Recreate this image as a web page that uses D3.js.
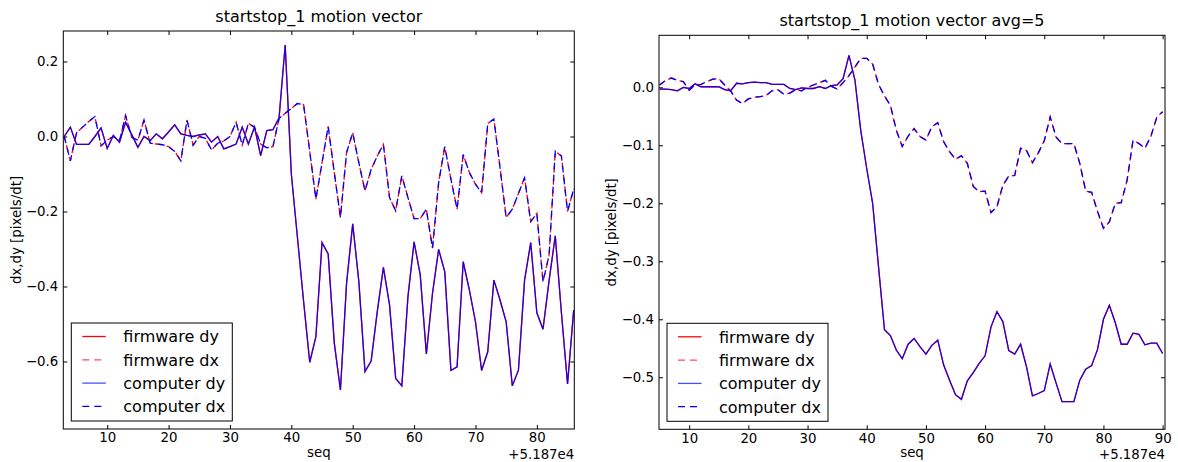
<!DOCTYPE html>
<html lang="en">
<head>
<meta charset="utf-8" />
<title>startstop_1 motion vector</title>
<script src="https://cdn.jsdelivr.net/npm/d3@7"></script>
<style>
  body { margin: 0; background: #fff; }
  svg { display: block; font-family: "DejaVu Sans", sans-serif; }
</style>
</head>
<body>
<svg id="chart" width="1178" height="462"></svg>
<script>
// seq numbers, shown with the +5.187e4 offset on the axis
const seqRaw = d3.range(3, 87);
const seqAvg = d3.range(5, 91);

// raw motion vector (left panel)
const dyRaw = [0.0, 0.025, -0.021, -0.021, -0.021, 0.0, 0.023, -0.032, 0.003, -0.015,
  0.038, 0.005, -0.029, 0.0, -0.011, 0.007, -0.006, 0.012, 0.031, 0.007,
  0.003, 0.0, 0.004, 0.007, -0.015, 0.0, -0.033, -0.027, -0.02, 0.025,
  -0.02, 0.025, -0.051, 0.016, 0.018, 0.05, 0.244, -0.1, -0.27, -0.44,
  -0.602, -0.534, -0.283, -0.313, -0.551, -0.676, -0.391, -0.233, -0.387, -0.627,
  -0.599, -0.467, -0.349, -0.449, -0.645, -0.665, -0.427, -0.281, -0.369, -0.58,
  -0.418, -0.301, -0.361, -0.624, -0.614, -0.334, -0.409, -0.494, -0.624, -0.574,
  -0.383, -0.436, -0.494, -0.665, -0.623, -0.383, -0.283, -0.47, -0.514, -0.383,
  -0.265, -0.47, -0.66, -0.463];
const dxRaw = [0.0, -0.065, 0.01, 0.025, 0.04, 0.053, -0.025, -0.01, 0.0, -0.012,
  0.056, -0.002, -0.01, 0.044, -0.018, -0.02, -0.022, -0.027, -0.04, -0.065,
  0.044, -0.023, 0.0, -0.005, -0.036, -0.018, -0.012, 0.0, 0.038, -0.023,
  0.035, 0.025, -0.02, -0.03, -0.027, 0.048, 0.062, 0.075, 0.088, 0.085,
  -0.04, -0.167, -0.07, 0.027, -0.096, -0.216, -0.043, 0.01, -0.07, -0.145,
  -0.088, -0.052, -0.021, -0.163, -0.198, -0.105, -0.163, -0.219, -0.219, -0.194,
  -0.298, -0.123, -0.027, -0.114, -0.194, -0.048, -0.096, -0.127, -0.15, 0.034,
  0.047, -0.083, -0.216, -0.194, -0.152, -0.11, -0.227, -0.205, -0.387, -0.316,
  -0.039, -0.052, -0.2, -0.14];

// averaged over 5 (right panel)
const dyAvg = [-0.003, -0.003, -0.004, -0.006, 0.0, -0.002, 0.006, 0.001, 0.001, 0.001,
  0.001, -0.004, -0.006, 0.007, 0.006, 0.008, 0.009, 0.008, 0.008, 0.005,
  0.005, 0.005, -0.002, -0.004, -0.001, -0.002, -0.002, 0.001, -0.002, 0.003,
  0.004, 0.015, 0.055, 0.013, -0.075, -0.14, -0.2, -0.31, -0.418, -0.428,
  -0.453, -0.468, -0.443, -0.433, -0.447, -0.46, -0.445, -0.436, -0.479, -0.505,
  -0.53, -0.538, -0.506, -0.492, -0.476, -0.463, -0.413, -0.387, -0.404, -0.454,
  -0.46, -0.443, -0.482, -0.532, -0.528, -0.523, -0.477, -0.51, -0.542, -0.542,
  -0.542, -0.505, -0.486, -0.48, -0.452, -0.4, -0.376, -0.406, -0.443, -0.443,
  -0.424, -0.426, -0.444, -0.441, -0.441, -0.459];
const dxAvg = [0.004, 0.012, 0.016, 0.012, 0.01, -0.005, 0.004, 0.005, 0.01, 0.014,
  0.015, 0.004, -0.006, -0.022, -0.028, -0.02, -0.017, -0.016, -0.014, -0.006,
  -0.004, -0.012, -0.01, -0.004, -0.006, 0.0, 0.004, 0.008, 0.012, 0.002,
  -0.003, 0.008, 0.02, 0.035, 0.05, 0.05, 0.04, 0.005, -0.015, -0.031,
  -0.074, -0.102, -0.084, -0.071, -0.085, -0.091, -0.068, -0.061, -0.094, -0.111,
  -0.124, -0.118, -0.131, -0.171, -0.18, -0.179, -0.216, -0.206, -0.169, -0.153,
  -0.152, -0.105, -0.109, -0.13, -0.113, -0.092, -0.051, -0.086, -0.097, -0.097,
  -0.097, -0.131, -0.179, -0.181, -0.214, -0.243, -0.232, -0.2, -0.199, -0.16,
  -0.091, -0.097, -0.105, -0.085, -0.052, -0.042];

// firmware and computer results coincide in the picture
const seriesNames = ["firmware dy", "firmware dx", "computer dy", "computer dx"];

const xTicksRaw = [10, 20, 30, 40, 50, 60, 70, 80];
const xTicksAvg = [10, 20, 30, 40, 50, 60, 70, 80, 90];
const yTicksRaw = [-0.6, -0.4, -0.2, 0.0, 0.2];
const yTicksAvg = [-0.5, -0.4, -0.3, -0.2, -0.1, 0.0];

const svg = d3.select("#chart");
const tickFormat = d3.format(".1f");
const tickFont = "13.33px";
const bigFont = "16px";

function drawPanel(p) {
  const x = d3.scaleLinear().domain(p.xDomain).range([p.left, p.right]);
  const y = d3.scaleLinear().domain(p.yDomain).range([p.bottom, p.top]);
  const g = svg.append("g");

  g.append("clipPath").attr("id", p.id + "-clip")
    .append("rect")
    .attr("x", p.left).attr("y", p.top)
    .attr("width", p.right - p.left).attr("height", p.bottom - p.top);

  const line = (vals) => d3.line()
    .x((d, i) => x(p.seq[i]))
    .y((d) => y(d))(vals);

  const styles = [
    { vals: p.dy, color: "#ff0000", dash: null, off: 0, op: 1 },
    { vals: p.dx, color: "#ff0000", dash: "7,5", off: p.dashOff, op: 1 },
    { vals: p.dy, color: "#0000ff", dash: null, off: 0, op: 0.85 },
    { vals: p.dx, color: "#0000ff", dash: "7,5", off: 0, op: 1 }
  ];

  const plot = g.append("g").attr("clip-path", `url(#${p.id}-clip)`);
  styles.forEach((s) => {
    plot.append("path")
      .attr("d", line(s.vals))
      .attr("fill", "none")
      .attr("stroke", s.color)
      .attr("stroke-opacity", s.op)
      .attr("stroke-width", 1.3)
      .attr("stroke-dasharray", s.dash)
      .attr("stroke-dashoffset", s.off);
  });

  // ticks point inward on all four sides
  const bottomAxis = g.append("g")
    .attr("transform", `translate(0,${p.bottom})`)
    .call(d3.axisBottom(x).tickValues(p.xTicks).tickSize(-4).tickPadding(4).tickFormat(d3.format("d")));
  const topAxis = g.append("g")
    .attr("transform", `translate(0,${p.top})`)
    .call(d3.axisTop(x).tickValues(p.xTicks).tickSize(-4).tickFormat(""));
  const leftAxis = g.append("g")
    .attr("transform", `translate(${p.left},0)`)
    .call(d3.axisLeft(y).tickValues(p.yTicks).tickSize(-4).tickPadding(5).tickFormat(tickFormat));
  const rightAxis = g.append("g")
    .attr("transform", `translate(${p.right},0)`)
    .call(d3.axisRight(y).tickValues(p.yTicks).tickSize(-4).tickFormat(""));

  [bottomAxis, topAxis, leftAxis, rightAxis].forEach((a) => {
    a.select(".domain").remove();
    a.selectAll("line").attr("stroke", "#000");
    a.selectAll("text")
      .attr("fill", "#000")
      .style("font-family", "DejaVu Sans")
      .style("font-size", tickFont);
  });

  g.append("rect")
    .attr("x", p.left).attr("y", p.top)
    .attr("width", p.right - p.left).attr("height", p.bottom - p.top)
    .attr("fill", "none").attr("stroke", "#000").attr("stroke-width", 1);

  g.append("text")
    .attr("x", (p.left + p.right) / 2).attr("y", p.titleY)
    .attr("text-anchor", "middle")
    .style("font-size", bigFont)
    .text(p.title);

  g.append("text")
    .attr("x", (p.left + p.right) / 2).attr("y", 456.5)
    .attr("text-anchor", "middle")
    .style("font-size", tickFont)
    .text("seq");

  g.append("text")
    .attr("x", p.right).attr("y", 458.5)
    .attr("text-anchor", "end")
    .style("font-size", tickFont)
    .text("+5.187e4");

  g.append("text")
    .attr("transform", `translate(${p.ylabelX},${(p.top + p.bottom) / 2}) rotate(-90)`)
    .attr("text-anchor", "middle")
    .style("font-size", tickFont)
    .text("dx,dy [pixels/dt]");

  // legend, lower left
  const lw = 161, lh = 98;
  const lx = p.left + 8, ly = p.bottom - 8 - lh;
  const legend = g.append("g").attr("transform", `translate(${lx},${ly})`);
  legend.append("rect")
    .attr("width", lw).attr("height", lh)
    .attr("fill", "#fff").attr("stroke", "#000").attr("stroke-width", 1);
  legend.selectAll(".legend-item")
    .data(seriesNames)
    .enter()
    .append("g")
    .attr("class", "legend-item")
    .attr("transform", (d, i) => `translate(0,${13.5 + i * 23.3})`)
    .call((item) => {
      item.append("line")
        .attr("x1", 11).attr("x2", 34.5)
        .attr("stroke", (d, i) => styles[i].color)
        .attr("stroke-opacity", (d, i) => (i === 1 || i === 2 ? 0.7 : 1))
        .attr("stroke-width", 1.3)
        .attr("stroke-dasharray", (d, i) => styles[i].dash);
      item.append("text")
        .attr("x", 52).attr("y", 5.8)
        .style("font-size", bigFont)
        .text((d) => d);
    });
}

drawPanel({
  id: "raw", seq: seqRaw, dy: dyRaw, dx: dxRaw,
  left: 63.3, right: 574.3, top: 31, bottom: 429,
  xDomain: [2.85, 86.1], yDomain: [-0.78, 0.2813],
  xTicks: xTicksRaw, yTicks: yTicksRaw,
  title: "startstop_1 motion vector", titleY: 22, ylabelX: 21, dashOff: 3
});

drawPanel({
  id: "avg", seq: seqAvg, dy: dyAvg, dx: dxAvg,
  left: 659, right: 1165, top: 35.3, bottom: 429.3,
  xDomain: [4.9, 90.4], yDomain: [-0.5897, 0.0897],
  xTicks: xTicksAvg, yTicks: yTicksAvg,
  title: "startstop_1 motion vector avg=5", titleY: 26, ylabelX: 616, dashOff: 1.5
});
</script>
</body>
</html>
